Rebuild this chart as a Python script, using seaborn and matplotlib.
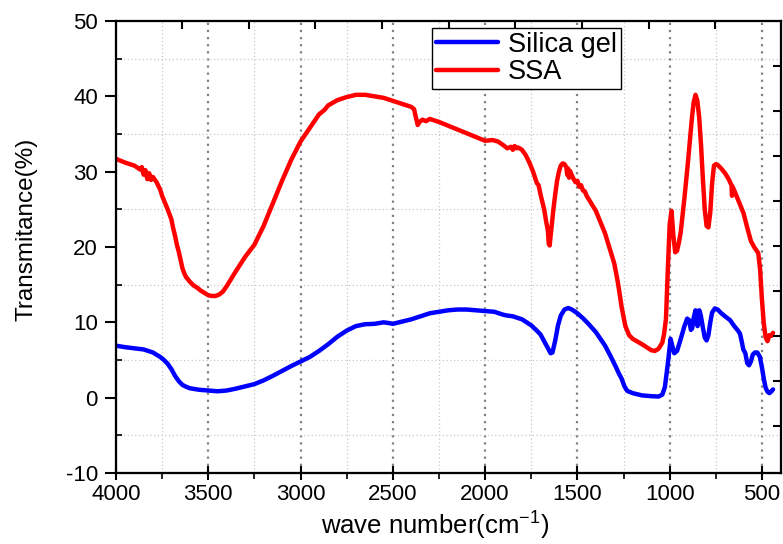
import numpy as np
import pandas as pd
import matplotlib
matplotlib.use("Agg")
import matplotlib.pyplot as plt
from matplotlib.ticker import MultipleLocator
import seaborn as sns

# ---------------- data ----------------
silica_wavenumber = [4000, 3950, 3900, 3850, 3800, 3760, 3740, 3720, 3700, 3680, 3660, 3640, 3620, 3600,
                     3550, 3500, 3450, 3400, 3350, 3300, 3250, 3200, 3150, 3100, 3050, 3000, 2950, 2900,
                     2850, 2800, 2750, 2700, 2650, 2600, 2550, 2520, 2500, 2450, 2400, 2350, 2300, 2250,
                     2200, 2150, 2100, 2050, 2000, 1950, 1900, 1880, 1850, 1800, 1775, 1750, 1720, 1700,
                     1680, 1660, 1645, 1635, 1620, 1605, 1590, 1570, 1550, 1530, 1500, 1468, 1440, 1400,
                     1378, 1350, 1320, 1306, 1290, 1275, 1260, 1245, 1230, 1200, 1150, 1100, 1060, 1040,
                     1026, 1010, 995, 985, 975, 960, 940, 920, 905, 895, 885, 878, 870, 860, 853, 849,
                     845, 840, 832, 820, 810, 800, 790, 780, 770, 755, 740, 720, 700, 673, 650, 630,
                     619, 610, 601, 590, 580, 570, 560, 550, 538, 525, 511, 500, 490, 480, 470, 460,
                     450, 440]
silica_transmittance = [6.9, 6.7, 6.55, 6.4, 6.0, 5.4, 5.0, 4.5, 3.8, 2.9, 2.2, 1.7, 1.45, 1.25,
                        1.05, 0.95, 0.85, 0.95, 1.2, 1.5, 1.8, 2.3, 2.9, 3.55, 4.2, 4.8, 5.4, 6.2,
                        7.1, 8.1, 8.9, 9.5, 9.75, 9.8, 10.0, 9.9, 9.8, 10.1, 10.4, 10.8, 11.2, 11.4,
                        11.6, 11.7, 11.7, 11.6, 11.5, 11.4, 11.0, 10.9, 10.8, 10.4, 10.0, 9.6, 8.9, 8.4,
                        7.5, 6.6, 5.9, 6.0, 7.6, 9.6, 10.9, 11.7, 11.9, 11.7, 11.2, 10.5, 9.8, 8.7,
                        7.9, 6.9, 5.5, 4.8, 4.0, 3.2, 2.5, 1.5, 0.9, 0.6, 0.3, 0.2, 0.15, 0.4,
                        1.4, 4.5, 7.8, 6.8, 5.9, 6.2, 7.8, 9.5, 10.5, 10.3, 9.0, 9.2, 10.6, 11.6, 10.5, 9.5,
                        10.4, 11.6, 11.0, 9.3, 8.0, 7.6, 8.3, 10.0, 11.3, 11.85, 11.7, 11.2, 10.8, 10.3, 9.5, 8.9,
                        8.5, 7.5, 6.4, 5.9, 4.6, 4.3, 4.8, 5.7, 6.0, 6.0, 5.4, 4.0, 2.5, 1.3, 0.8, 0.6,
                        0.8, 1.1]

ssa_wavenumber = [4000, 3950, 3900, 3870, 3860, 3850, 3840, 3830, 3820, 3810, 3800, 3780, 3760, 3750,
                  3740, 3720, 3700, 3690, 3680, 3670, 3660, 3650, 3640, 3630, 3620, 3600, 3580, 3560,
                  3540, 3520, 3500, 3480, 3460, 3440, 3420, 3400, 3380, 3350, 3300, 3250, 3200, 3150,
                  3100, 3050, 3000, 2950, 2900, 2870, 2850, 2800, 2750, 2700, 2650, 2600, 2550, 2500,
                  2450, 2400, 2385, 2375, 2365, 2355, 2340, 2320, 2300, 2250, 2200, 2150, 2100, 2050,
                  2000, 1960, 1930, 1900, 1880, 1860, 1850, 1840, 1830, 1820, 1800, 1780, 1760, 1740,
                  1720, 1710, 1700, 1690, 1680, 1670, 1660, 1655, 1650, 1645, 1640, 1630, 1620, 1610,
                  1600, 1590, 1580, 1570, 1560, 1555, 1550, 1545, 1540, 1530, 1520, 1510, 1500, 1490,
                  1480, 1470, 1460, 1450, 1400, 1350, 1300, 1280, 1260, 1240, 1220, 1200, 1150, 1100,
                  1080, 1060, 1040, 1030, 1020, 1010, 1000, 990, 980, 970, 960, 950, 940, 920,
                  900, 880, 870, 860, 850, 840, 830, 820, 810, 800, 790, 780, 770, 760,
                  750, 740, 720, 700, 680, 665, 662, 659, 650, 630, 600, 580, 560, 540,
                  520, 510, 500, 490, 480, 470, 460, 450, 440]
ssa_transmittance = [31.7, 31.2, 30.8, 30.3, 30.6, 29.6, 30.2, 29.0, 29.8, 28.9, 29.3, 28.6, 27.6, 26.8,
                     26.2, 25.0, 23.7, 22.5, 21.5, 20.3, 19.4, 18.3, 17.2, 16.5, 16.0, 15.4, 14.9, 14.6,
                     14.2, 13.9, 13.6, 13.5, 13.5, 13.7, 14.1, 14.8, 15.6, 16.8, 18.7, 20.3, 22.8, 25.8,
                     28.8, 31.6, 34.0, 35.8, 37.6, 38.2, 38.8, 39.5, 39.9, 40.2, 40.2, 40.0, 39.8, 39.4,
                     39.0, 38.6, 38.3, 37.2, 36.2, 36.6, 36.9, 36.7, 37.0, 36.6, 36.1, 35.6, 35.1, 34.6,
                     34.1, 34.2, 34.0, 33.5, 33.1, 33.3, 32.9, 33.4, 33.1, 33.2, 32.9, 32.2, 31.2, 30.0,
                     28.5, 28.2, 27.0, 26.0, 25.0, 23.5, 22.2, 20.4, 20.2, 21.5, 22.6, 25.0, 27.0, 28.8,
                     30.0, 30.8, 31.1, 31.0, 30.6, 29.6, 30.4, 29.2, 30.1, 29.5, 29.0, 28.6, 28.8, 28.0,
                     28.2, 27.5, 27.4, 26.8, 24.8, 21.8, 17.8, 15.2, 12.0, 9.5, 8.3, 7.8, 7.1, 6.3,
                     6.2, 6.5, 7.3, 8.5, 10.5, 17.0, 23.0, 24.8, 21.5, 19.3, 19.5, 20.6, 22.0, 26.5,
                     31.5, 37.0, 39.2, 40.2, 39.4, 37.2, 33.5, 29.0, 25.0, 22.8, 22.6, 24.6, 28.5, 30.8,
                     31.0, 30.9, 30.4, 29.8, 29.0, 28.2, 26.8, 28.0, 27.5, 26.3, 24.5, 22.6, 20.8, 19.9,
                     19.2, 17.0, 13.0, 9.8, 8.0, 7.5, 8.3, 8.2, 8.6]

series_names = ["Silica gel", "SSA"]
series_colors = ["#0000ff", "#ff0000"]

x_major_ticks = [4000, 3500, 3000, 2500, 2000, 1500, 1000, 500]
y_major_ticks = [-10, 0, 10, 20, 30, 40, 50]
x_tick_labels = [str(v) for v in x_major_ticks]
y_tick_labels = [str(v) for v in y_major_ticks]

# ---------------- build table ----------------
df = pd.concat([
    pd.DataFrame({"wavenumber": silica_wavenumber, "T": silica_transmittance, "sample": series_names[0]}),
    pd.DataFrame({"wavenumber": ssa_wavenumber, "T": ssa_transmittance, "sample": series_names[1]}),
], ignore_index=True)

sns.set_theme(style="ticks")
plt.rcParams["font.family"] = ["Liberation Sans", "DejaVu Sans"]
plt.rcParams["mathtext.default"] = "regular"
for k in ("text.color", "axes.labelcolor", "xtick.color", "ytick.color", "axes.edgecolor"):
    plt.rcParams[k] = "black"

fig = plt.figure(figsize=(7.83, 5.44), dpi=100)
ax = fig.add_axes([0.1481, 0.1305, 0.8493, 0.8309])

# mismatched inward ticks on the top and right frame
top_tick_positions = [3642, 3281, 2920, 2559, 2198, 1836, 1475, 1114, 753]
right_tick_positions = [44.0, 38.05, 32.07, 26.09, 20.11, 14.13, 8.16, 2.18, -3.8]
axt = ax.twiny()
axr = ax.twinx()

sns.lineplot(data=df, x="wavenumber", y="T", hue="sample", hue_order=series_names,
             palette=dict(zip(series_names, series_colors)), sort=False, estimator=None,
             linewidth=3.2, ax=ax, legend=True)

ax.set_xlim(4000, 397)
ax.set_ylim(-10, 50)
ax.set_xticks(x_major_ticks)
ax.set_xticklabels(x_tick_labels)
ax.set_yticks(y_major_ticks)
ax.set_yticklabels(y_tick_labels)
ax.xaxis.set_minor_locator(MultipleLocator(250))
ax.yaxis.set_minor_locator(MultipleLocator(5))

axt.set_xlim(ax.get_xlim())
axt.set_xticks(top_tick_positions)
axt.set_xticklabels([])
axt.tick_params(axis="x", direction="in", length=6, width=1.5, color="black")
axr.set_ylim(ax.get_ylim())
axr.set_yticks(right_tick_positions)
axr.set_yticklabels([])
axr.tick_params(axis="y", direction="in", length=6, width=1.5, color="black")
for a in (axt, axr):
    a.grid(False)
    for s in a.spines.values():
        s.set_linewidth(1.5)
        s.set_color("black")

# grid
ax.grid(which="major", axis="x", color="#808080", linestyle=(0, (1, 2.2)), linewidth=1.6)
ax.grid(which="major", axis="y", visible=False)
ax.grid(which="minor", axis="both", color="#c8c8c8", linestyle=(0, (1, 2)), linewidth=0.9)
ax.set_axisbelow(True)

for s in ax.spines.values():
    s.set_linewidth(1.5)
    s.set_color("black")

ax.tick_params(axis="both", which="major", labelsize=16, width=1.5, color="black", labelcolor="black")
ax.tick_params(axis="x", which="major", direction="inout", length=10, pad=3)
ax.tick_params(axis="x", which="minor", direction="out", length=4, width=1.2)
ax.tick_params(axis="y", which="major", direction="out", length=8, pad=5)
ax.tick_params(axis="y", which="minor", direction="in", length=4, width=1.2)

ax.set_xlabel(r"wave number(cm$^{-1}$)", fontsize=18.5, color="black")
ax.set_ylabel("Transmitance(%)", fontsize=17.5, color="black")
ax.xaxis.set_label_coords(0.48, -0.137)
ax.xaxis.label.set_va("baseline")
ax.yaxis.set_label_coords(-0.118, 0.538)

leg = ax.legend(loc="upper left", bbox_to_anchor=(0.475, 0.985), fontsize=19.5, frameon=True,
                fancybox=False, edgecolor="black", framealpha=1, borderpad=0.15,
                labelspacing=0.05, handlelength=2.3, handletextpad=0.35, borderaxespad=0)
leg.get_frame().set_linewidth(1.0)
for line in leg.get_lines():
    line.set_linewidth(3.2)
for t in leg.get_texts():
    t.set_color("black")

fig.savefig("out.png", dpi=100)
